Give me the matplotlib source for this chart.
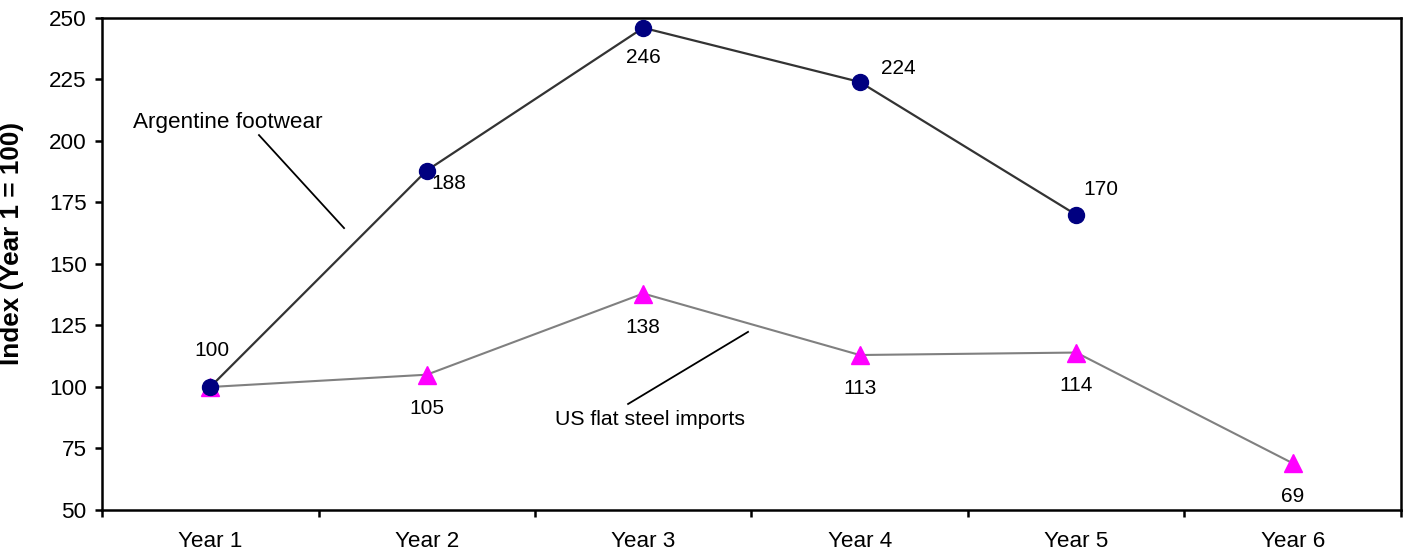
import numpy as np
import matplotlib.pyplot as plt

plt.rcParams["font.family"] = ["Liberation Sans", "DejaVu Sans"]

# ── Dados (índice, Year 1 = 100) ──────────────────────────────────────────────
years = ["Year 1", "Year 2", "Year 3", "Year 4", "Year 5", "Year 6"]
footwear = [100, 188, 246, 224, 170, np.nan]
steel = [100, 105, 138, 113, 114, 69]

# deslocamento dos rótulos de valor (pontos)
footwear_offsets = [(1.5, 26), (16, -9), (0, -21.5), (28, 9.5), (18, 18), None]
steel_offsets = [None, (0, -24), (0, -24.5), (0, -24), (0, -24), (0, -24)]

C_FOOT_LINE = "#333333"
C_FOOT_MK = "#000080"
C_STEEL_LINE = "#808080"
C_STEEL_MK = "#ff00ff"

FS = 16.2

fig = plt.figure(figsize=(14.09, 5.52), dpi=100)
ax = fig.add_axes([0.0724, 0.0761, 0.9219, 0.8913])

x = np.arange(1, len(years) + 1)

ax.plot(x, steel, color=C_STEEL_LINE, lw=1.5, marker="^", ms=13,
        mfc=C_STEEL_MK, mec=C_STEEL_MK, zorder=3)
ax.plot(x, footwear, color=C_FOOT_LINE, lw=1.6, marker="o", ms=11.5,
        mfc=C_FOOT_MK, mec=C_FOOT_MK, zorder=4)

for xi, v, off in zip(x, footwear, footwear_offsets):
    if off is None or np.isnan(v):
        continue
    ax.annotate(f"{v:.0f}", (xi, v), xytext=off, textcoords="offset points",
                ha="center", va="center", fontsize=15)
for xi, v, off in zip(x, steel, steel_offsets):
    if off is None:
        continue
    ax.annotate(f"{v:.0f}", (xi, v), xytext=off, textcoords="offset points",
                ha="center", va="center", fontsize=15)

# rótulos das séries com linha de chamada
ax.text(0.643, 207.7, "Argentine footwear", fontsize=FS, ha="left", va="center")
ax.plot([1.225, 1.618], [202.4, 164.6], color="black", lw=1.3, zorder=2)
ax.text(2.592, 86.6, "US flat steel imports", fontsize=15.3, ha="left", va="center")
ax.plot([2.93, 3.484], [93.1, 122.4], color="black", lw=1.3, zorder=2)

# ── Eixos ─────────────────────────────────────────────────────────────────────
ax.set_xlim(0.5, len(years) + 0.5)
ax.set_ylim(50, 250)
ax.set_yticks(np.arange(50, 251, 25))
ax.set_xticks(np.arange(0.5, len(years) + 1, 1))
ax.set_xticklabels([])
ax.set_xticks(x, minor=True)
ax.set_xticklabels(years, minor=True)
ax.tick_params(axis="x", which="major", direction="out", length=5, width=1.8)
ax.tick_params(axis="x", which="minor", length=0, pad=15, labelsize=FS)
ax.tick_params(axis="y", direction="out", length=5, width=1.8, pad=6,
               labelsize=FS)

for s in ax.spines.values():
    s.set_linewidth(1.8)
    s.set_color("black")

ax.set_ylabel("Index (Year 1 = 100)", fontsize=18.8, fontweight="bold")
ax.yaxis.set_label_coords(-0.060, 0.5417)

fig.savefig("out.png", dpi=100)
